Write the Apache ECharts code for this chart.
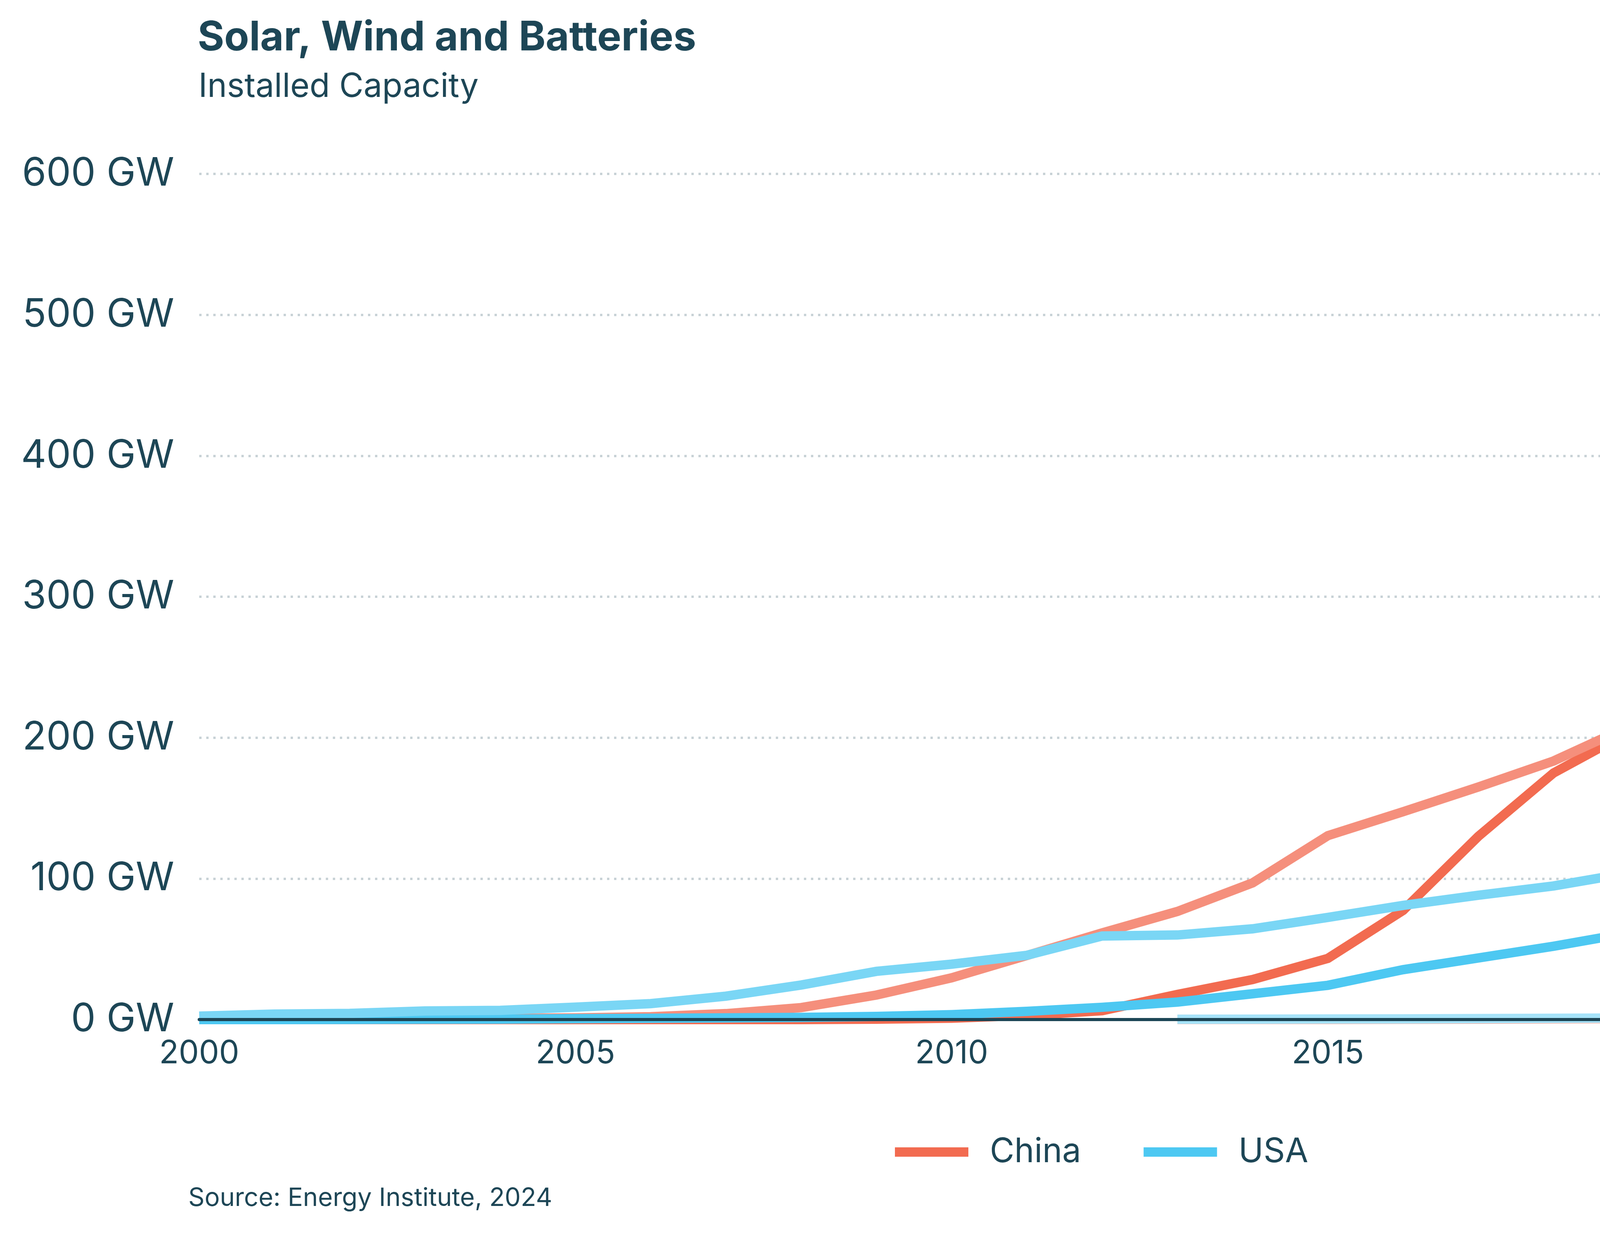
<!DOCTYPE html>
<html>
<head>
    <meta charset="utf-8">
    <title>Solar, Wind and Batteries</title>
    <style type="text/css">
        html, body {
            margin: 0;
            padding: 0;
            background: #ffffff;
        }
    </style>
</head>
<body>
<div id="main" style="width: 5426px;height:3168px;"></div>

<script type="text/javascript" src="https://cdn.jsdelivr.net/npm/echarts@6.0.0/dist/echarts.min.js"></script>
<script type="text/javascript">
    var years = [2000, 2001, 2002, 2003, 2004, 2005, 2006, 2007, 2008, 2009, 2010, 2011,
                 2012, 2013, 2014, 2015, 2016, 2017, 2018, 2019, 2020, 2021, 2022, 2023];

    // GW
    var chinaSolar = [0, 0, 0, 0, 0, 0, 0, 0, 0, 0.3, 1, 3,
                      6.3, 17.8, 28.4, 43.4, 77.5, 130, 175, 204, 253.6, 308, 393, 611];
    var chinaWind = [0.3, 0.4, 0.5, 0.6, 0.8, 1.2, 2.0, 4.2, 8.5, 17.4, 29.6, 45.5,
                     61.5, 76.7, 97, 130.5, 147.5, 165, 183.5, 208, 282.5, 329.5, 365, 443];
    var chinaBatteries = [null, null, null, null, null, null, null, null, null, null, null, null,
                          null, 0.1, 0.1, 0.1, 0.2, 0.3, 0.5, 0.7, 1.0, 2.0, 7.8, 28];
    var usaSolar = [0, 0, 0.1, 0.2, 0.3, 0.6, 0.9, 1.2, 1.5, 2.2, 3.5, 5.8,
                    8.7, 12.4, 18.3, 24.3, 35.4, 43.7, 52, 61.5, 76.4, 94.5, 111, 138];
    var usaWind = [2.4, 3.9, 4.4, 6.1, 6.5, 8.8, 11.3, 16.6, 24.5, 34.2, 39.3, 45.6,
                   59.3, 60, 64.4, 72.5, 81, 88.2, 94.8, 104, 118.5, 133.5, 141.5, 148.5];
    var usaBatteries = [null, null, null, null, null, null, null, null, null, null, null, null,
                        null, 0.2, 0.3, 0.4, 0.5, 0.7, 0.9, 1.1, 1.5, 4.8, 9.3, 16];

    var yTicks = [0, 100, 200, 300, 400, 500, 600];
    var xTicks = [2000, 2005, 2010, 2015, 2020];

    var textColor = '#1d4656';
    var fontName = "Inter, 'Noto Sans', sans-serif";

    function pairs(values) {
        var out = [];
        for (var i = 0; i < years.length; i++) {
            out.push([years[i], values[i]]);
        }
        return out;
    }

    function lineSeries(name, values, color, z, label, dy) {
        return {
            name: name,
            type: 'line',
            z: z,
            data: pairs(values),
            showSymbol: false,
            symbol: 'none',
            itemStyle: { color: color },
            lineStyle: { color: color, width: 24, cap: 'butt', join: 'miter' },
            emphasis: { disabled: true },
            endLabel: {
                show: !!label,
                formatter: function () { return label; },
                color: textColor,
                fontFamily: fontName,
                fontSize: 82,
                distance: 38,
                offset: [0, dy || 0]
            }
        };
    }

    var chart = echarts.init(document.getElementById('main'));

    chart.setOption({
        animation: false,
        backgroundColor: '#ffffff',
        title: [{
            text: 'Solar, Wind and Batteries',
            left: 506,
            top: 46,
            padding: 0,
            textStyle: {
                color: textColor,
                fontFamily: fontName,
                fontWeight: 'bold',
                fontSize: 104,
                lineHeight: 104
            }
        }, {
            text: 'Installed Capacity',
            left: 508,
            top: 180,
            padding: 0,
            textStyle: {
                color: textColor,
                fontFamily: fontName,
                fontWeight: 'normal',
                fontSize: 85,
                lineHeight: 85
            }
        }],
        legend: {
            data: [
                { name: 'China', itemStyle: { color: '#f26b50' } },
                { name: 'USA', itemStyle: { color: '#4dc8f2' } }
            ],
            left: 2291,
            top: 2905,
            padding: 0,
            icon: 'rect',
            itemWidth: 188,
            itemHeight: 24,
            itemGap: 160,
            selectedMode: false,
            textStyle: {
                color: textColor,
                fontFamily: fontName,
                fontSize: 86,
                lineHeight: 86,
                padding: [0, 0, 0, 50]
            }
        },
        grid: {
            left: 510,
            right: 266,
            top: 337,
            bottom: 559,
            containLabel: false
        },
        xAxis: {
            type: 'value',
            min: 2000,
            max: 2024.14,
            interval: 5,
            z: 10,
            axisLine: { show: true, lineStyle: { color: textColor, width: 8 } },
            axisTick: { show: false },
            splitLine: { show: false },
            axisLabel: {
                color: textColor,
                fontFamily: fontName,
                fontSize: 82,
                lineHeight: 82,
                margin: 46,
                formatter: function (v) {
                    return xTicks.indexOf(v) >= 0 ? String(v) : '';
                }
            }
        },
        yAxis: {
            type: 'value',
            min: 0,
            max: 630,
            interval: 100,
            axisLine: { show: false },
            axisTick: { show: false },
            axisLabel: {
                color: textColor,
                fontFamily: fontName,
                fontSize: 100,
                margin: 64,
                showMaxLabel: false,
                formatter: function (v) {
                    return yTicks.indexOf(v) >= 0 ? v + ' GW' : '';
                }
            },
            splitLine: {
                show: true,
                showMinLine: false,
                showMaxLine: false,
                lineStyle: { color: '#c8d2d6', width: 6, type: [6, 12] }
            }
        },
        graphic: [{
            type: 'text',
            left: 482,
            top: 3034,
            style: {
                text: 'Source: Energy Institute, 2024',
                fill: textColor,
                font: "65px Inter, 'Noto Sans', sans-serif"
            }
        }],
        series: [
            lineSeries('China', chinaSolar, '#f26b50', 3, 'Solar', -25),
            lineSeries('China', chinaWind, '#f58f7c', 4, 'Wind', -26),
            lineSeries('China', chinaBatteries, '#f8b5a7', 2, '', 0),
            lineSeries('USA', usaSolar, '#4dc8f2', 6, 'Solar', 0),
            lineSeries('USA', usaWind, '#7ad6f5', 7, 'Wind', -52),
            lineSeries('USA', usaBatteries, '#a6e3f9', 5, 'Batteries', -27)
        ]
    });
</script>

</body>
</html>
